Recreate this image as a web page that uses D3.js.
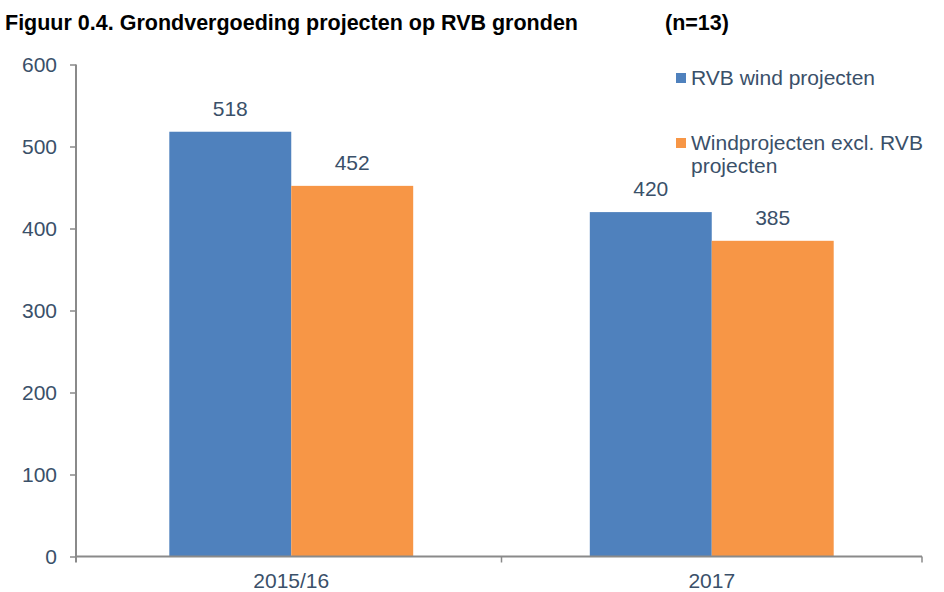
<!DOCTYPE html>
<html>
<head>
<meta charset="utf-8">
<script src="https://cdn.jsdelivr.net/npm/d3@7"></script>
<style>
  html, body { margin: 0; padding: 0; background: #ffffff; }
  svg { display: block; }
  text { font-family: "Liberation Sans", Arial, sans-serif; }
</style>
</head>
<body>
<svg id="chart" width="944" height="592"></svg>
<script>
// ---- Data ----
const categories = ["2015/16", "2017"];
const seriesNames = ["RVB wind projecten", "Windprojecten excl. RVB projecten"];
const rvbWind = [518, 420];
const windExclRvb = [452, 385];
const yTicks = [0, 100, 200, 300, 400, 500, 600];
const titleText = "Figuur 0.4. Grondvergoeding projecten op RVB gronden";
const nText = "(n=13)";

const colors = ["#4F81BD", "#F79646"];
const textColor = "#3A5069";
const axisColor = "#8A8A8A";

const svg = d3.select("#chart");

// Title
svg.append("text").attr("x", 5).attr("y", 30)
  .attr("font-size", 21.5).attr("font-weight", "bold").attr("fill", "#000")
  .text(titleText);
svg.append("text").attr("x", 665).attr("y", 30)
  .attr("font-size", 21.5).attr("font-weight", "bold").attr("fill", "#000")
  .text(nText);

// Scales
const y = d3.scaleLinear().domain([0, 600]).range([556.5, 64.5]);
const x0 = d3.scaleBand().domain(categories).range([81, 922])
  .paddingInner(0.42).paddingOuter(0.21);
const x1 = d3.scaleBand().domain(seriesNames).range([0, x0.bandwidth()]);

const seriesValues = [rvbWind, windExclRvb];
const data = categories.map((c, i) => ({
  cat: c,
  vals: seriesNames.map((s, j) => ({ s, j, v: seriesValues[j][i] }))
}));

// Bars
const g = svg.append("g");
const groups = g.selectAll("g.cat").data(data).join("g")
  .attr("transform", d => `translate(${x0(d.cat)},0)`);
groups.selectAll("rect").data(d => d.vals).join("rect")
  .attr("x", d => x1(d.s))
  .attr("y", d => y(d.v))
  .attr("width", x1.bandwidth())
  .attr("height", d => y(0) - y(d.v))
  .attr("fill", d => colors[d.j]);
groups.selectAll("text.val").data(d => d.vals).join("text")
  .attr("class", "val")
  .attr("x", d => x1(d.s) + x1.bandwidth() / 2)
  .attr("y", d => y(d.v) - 16)
  .attr("text-anchor", "middle")
  .attr("font-size", 21)
  .attr("fill", textColor)
  .text(d => d.v);

// Y axis
const yAxis = d3.axisLeft(y).tickValues(yTicks).tickSize(6).tickPadding(13);
const yg = svg.append("g").attr("transform", "translate(76,0)").call(yAxis);
yg.select(".domain").attr("stroke", axisColor).attr("stroke-width", 2)
  .attr("d", `M0,${y(600)}V${y(0) + 6}`);
yg.selectAll(".tick line").attr("stroke", axisColor).attr("stroke-width", 1.5);
yg.selectAll(".tick text").attr("font-size", 21).attr("fill", textColor)
  .attr("font-family", "'Liberation Sans', Arial, sans-serif");

// X axis
const step = x0.step();
const bounds = [x0.range()[0], x0.range()[0] + step, x0.range()[0] + 2 * step];
const xg = svg.append("g").attr("transform", `translate(0,${y(0)})`);
xg.append("line").attr("x1", 76).attr("x2", bounds[2]).attr("y1", 0).attr("y2", 0)
  .attr("stroke", axisColor).attr("stroke-width", 2);
xg.selectAll("line.tk").data(bounds.slice(1)).join("line").attr("class", "tk")
  .attr("x1", d => d).attr("x2", d => d).attr("y1", 0).attr("y2", 6)
  .attr("stroke", axisColor).attr("stroke-width", 1.5);
xg.selectAll("text.cat").data(categories).join("text").attr("class", "cat")
  .attr("x", d => x0(d) + x0.bandwidth() / 2)
  .attr("y", 31)
  .attr("text-anchor", "middle")
  .attr("font-size", 21)
  .attr("fill", textColor)
  .text(d => d);

// Legend
const legend = svg.append("g");
const legendLines = [["RVB wind projecten"], ["Windprojecten excl. RVB", "projecten"]];
const legendY = [85, 150];
legendLines.forEach((lines, i) => {
  legend.append("rect").attr("x", 676).attr("y", legendY[i] - 12)
    .attr("width", 10).attr("height", 10).attr("fill", colors[i]);
  const t = legend.append("text").attr("x", 691).attr("y", legendY[i])
    .attr("font-size", 21).attr("fill", textColor);
  lines.forEach((l, k) => {
    t.append("tspan").attr("x", 691).attr("dy", k === 0 ? 0 : 23).text(l);
  });
});
</script>
</body>
</html>
